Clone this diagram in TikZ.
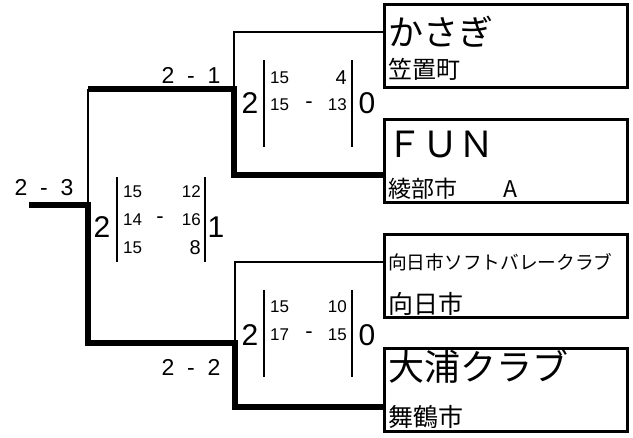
\documentclass[tikz,border=0pt]{standalone}
\usepackage{fontspec}
\setmainfont{Liberation Sans}
\newfontfamily\jpfont{Noto Sans CJK JP}

\begin{document}
\begin{tikzpicture}[x=1pt, y=1pt,
  team/.style={draw, line width=3pt, minimum width=243pt, minimum height=83pt, inner sep=0pt},
  win/.style={line width=6.5pt},
  lose/.style={line width=2pt},
  bar/.style={line width=2.5pt},
  label/.style={inner sep=0pt, anchor=west, font=\jpfont\fontsize{#1}{#1}\selectfont},
  sets/.style={inner sep=0pt, font=\fontsize{30}{30}\selectfont},
  pts/.style={inner sep=0pt, font=\fontsize{17}{17}\selectfont},
  one/.style={inner sep=0pt, font=\fontsize{20}{20}\selectfont},
  minus/.style={inner sep=0pt, font=\fontsize{22}{22}\selectfont},
  res/.style={inner sep=0pt, font=\fontsize{23}{23}\selectfont}]
\useasboundingbox (0,0) rectangle (633,-438);

\node[team] (b1) at (506,-46) {};
\node[team] (b2) at (506,-161) {};
\node[team] (b3) at (506,-276.5) {};
\node[team] (b4) at (506,-390) {};

\node[label=35] (t1name) at (388,-32) {かさぎ};
\node[label=24] (t1city) at (388,-69) {笠置町};
\node[label=36] (t2name) at (386,-145) {ＦＵＮ};
\node[label=23] (t2city) at (388,-189) {綾部市　　A};
\node[label=18.7] (t3name) at (388,-262) {向日市ソフトバレークラブ};
\node[label=25] (t3city) at (388,-304) {向日市};
\node[label=36] (t4name) at (388,-367) {大浦クラブ};
\node[label=25] (t4city) at (388,-417) {舞鶴市};

\coordinate (root) at (29,-205);
\coordinate (fin) at (88,-205);
\coordinate (s1) at (88,-89);
\coordinate (s2) at (88,-343);
\coordinate (m1) at (234,-89);
\coordinate (m2) at (235,-343);

\draw[lose] (b1.west |- 0,-32) -| (m1);
\draw[win] (b2.west |- 0,-175) -| (m1) -- (s1);
\draw[lose] (s1) -- (fin);
\draw[lose] (b3.west |- 0,-262) -| (m2);
\draw[win] (root) -- (fin) -- (s2) -- (m2) |- (b4.west |- 0,-407);

\node[res] (r0) at (44,-188) {2\ \ -\ \ 3};
\node[res] (r1) at (191,-75) {2\ \ -\ \ 1};
\node[res] (r2) at (191,-367) {2\ \ -\ \ 2};

% final
\node[sets] (fa) at (102,-227) {2};
\node[sets] (fb) at (216,-227) {1};
\draw[bar] (117,-177) -- (117,-262);
\draw[bar] (205,-177) -- (205,-262);
\node[pts, anchor=west] (f11) at (123,-192) {15};
\node[pts, anchor=east] (f12) at (201,-192) {12};
\node[pts, anchor=west] (f21) at (123,-220) {14};
\node[minus] (f2d) at (160,-220) {-};
\node[pts, anchor=east] (f22) at (201,-220) {16};
\node[pts, anchor=west] (f31) at (123,-248) {15};
\node[one, anchor=east] (f32) at (201,-248) {8};

% upper semi
\node[sets] (ua) at (250,-103) {2};
\node[sets] (ub) at (367,-103) {0};
\draw[bar] (264,-60) -- (264,-147);
\draw[bar] (352,-60) -- (352,-147);
\node[pts, anchor=west] (u11) at (270,-78) {15};
\node[one, anchor=east] (u12) at (347,-78) {4};
\node[pts, anchor=west] (u21) at (270,-105) {15};
\node[minus] (u2d) at (309,-105) {-};
\node[pts, anchor=east] (u22) at (347,-105) {13};

% lower semi
\node[sets] (la) at (250,-335) {2};
\node[sets] (lb) at (367,-335) {0};
\draw[bar] (264,-290) -- (264,-377);
\draw[bar] (352,-290) -- (352,-377);
\node[pts, anchor=west] (l11) at (270,-307) {15};
\node[pts, anchor=east] (l12) at (347,-307) {10};
\node[pts, anchor=west] (l21) at (270,-335) {17};
\node[minus] (l2d) at (309,-335) {-};
\node[pts, anchor=east] (l22) at (347,-335) {15};
\end{tikzpicture}
\end{document}
